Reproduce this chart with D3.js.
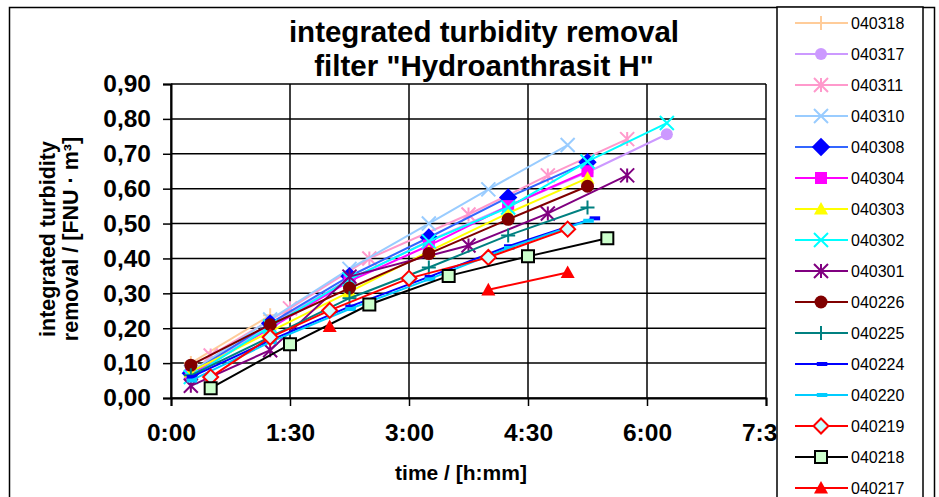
<!DOCTYPE html>
<html>
<head>
<meta charset="utf-8">
<script src="https://cdn.jsdelivr.net/npm/d3@7"></script>
<style>
  body { margin: 0; background: #fff; }
  svg { display: block; }
  text { font-family: Arial, "Liberation Sans", sans-serif; }
</style>
</head>
<body>
<svg id="chart" width="939" height="497"></svg>
<script>
// Filter runs, listed in legend order
const seriesNames = ["040318", "040317", "040311", "040310", "040308", "040304", "040303", "040302",
                     "040301", "040226", "040225", "040224", "040220", "040219", "040218", "040217"];

// Elapsed filter time in hours for each run
const seriesHours = [
  [0.25, 1.25],
  [0.25, 1.25, 2.25, 3.25, 4.25, 5.25, 6.25],
  [0.5, 1.5, 2.5, 3.75, 4.75, 5.75],
  [0.25, 1.25, 2.25, 3.25, 4.0, 5.0],
  [0.25, 1.25, 2.25, 3.25, 4.25, 5.25],
  [0.25, 1.25, 2.25, 3.25, 4.25, 5.25],
  [0.25, 1.25, 2.25, 3.25, 4.25, 5.25],
  [0.25, 1.25, 2.25, 3.25, 4.25, 5.25, 6.25],
  [0.25, 1.25, 2.25, 3.75, 4.75, 5.75],
  [0.25, 1.25, 2.25, 3.25, 4.25, 5.25],
  [0.25, 1.25, 2.25, 3.25, 4.25, 5.25],
  [0.25, 1.25, 2.25, 3.25, 4.25, 5.33],
  [0.25, 1.25, 2.25, 3.25, 4.25, 5.25],
  [0.5, 1.25, 2.0, 3.0, 4.0, 5.0],
  [0.5, 1.5, 2.5, 3.5, 4.5, 5.5],
  [2.0, 3.0, 4.0, 5.0]
];

// Integrated turbidity removal [FNU · m³]; null = no measurement
const seriesValues = [
  [0.10, 0.237],
  [0.07, 0.21, 0.34, 0.45, 0.55, 0.647, 0.756],
  [0.122, 0.257, 0.40, 0.526, 0.638, 0.742],
  [0.075, 0.225, 0.37, 0.50, 0.598, 0.725],
  [0.071, 0.214, 0.349, 0.46, 0.575, 0.676],
  [0.065, 0.20, 0.335, 0.437, 0.55, 0.65],
  [0.075, 0.19, 0.304, 0.42, 0.53, 0.63],
  [0.06, 0.205, 0.34, 0.449, 0.546, 0.678, 0.788],
  [0.035, 0.137, 0.348, 0.437, 0.529, 0.638],
  [0.094, 0.21, 0.315, 0.414, 0.512, 0.607],
  [0.065, 0.175, 0.286, 0.374, 0.466, 0.546],
  [0.06, 0.165, 0.262, 0.347, 0.435, 0.515],
  [0.05, 0.16, 0.255, 0.34, 0.43, 0.508],
  [0.06, 0.174, 0.251, 0.343, 0.403, 0.484],
  [0.028, 0.154, 0.268, 0.35, 0.406, 0.458],
  [0.205, null, 0.31, 0.36]
];

const xTickHours = [0, 1.5, 3, 4.5, 6, 7.5];
const xTickLabels = ["0:00", "1:30", "3:00", "4:30", "6:00", "7:30"];
const yTickValues = [0, 0.1, 0.2, 0.3, 0.4, 0.5, 0.6, 0.7, 0.8, 0.9];
const yTickLabels = ["0,00", "0,10", "0,20", "0,30", "0,40", "0,50", "0,60", "0,70", "0,80", "0,90"];

// Per-run styling: line colour, marker shape, marker fill, marker stroke
const lineColors   = ["#FFCC99", "#CC99FF", "#FF99CC", "#99CCFF", "#3366FF", "#FF00FF", "#FFFF00", "#00FFFF",
                      "#800080", "#800000", "#008080", "#0000FF", "#00CCFF", "#FF0000", "#000000", "#FF0000"];
const markerShapes = ["plus", "circle", "asterisk", "x", "diamond", "square", "triangle", "x",
                      "asterisk", "circle", "plus", "dash", "dash", "diamond", "square", "triangle"];
const markerFills  = ["none", "#CC99FF", "none", "none", "#0000FF", "#FF00FF", "#FFFF00", "none",
                      "none", "#800000", "none", "#0000FF", "#00CCFF", "#CCFFFF", "#CCFFCC", "#FF0000"];
const markerStrokes = ["#FFCC99", "#CC99FF", "#FF99CC", "#99CCFF", "#0000FF", "#FF00FF", "#FFFF00", "#00FFFF",
                       "#800080", "#800000", "#008080", "#0000FF", "#00CCFF", "#FF0000", "#000000", "#FF0000"];

const svg = d3.select("#chart");
const plot = { left: 171, right: 766, top: 84, bottom: 398 };

const x = d3.scaleLinear().domain([0, 7.5]).range([plot.left, plot.right]);
const y = d3.scaleLinear().domain([0, 0.9]).range([plot.bottom, plot.top]);

// Outer chart frame
svg.append("rect").attr("x", 9.5).attr("y", 7.5).attr("width", 925).attr("height", 520)
  .attr("fill", "#fff").attr("stroke", "#000").attr("stroke-width", 1.5);

// Title
const title = svg.append("text").attr("text-anchor", "middle")
  .attr("font-weight", "bold").attr("font-size", 29.5).attr("fill", "#000");
title.append("tspan").attr("x", 484).attr("y", 42).text("integrated turbidity removal");
title.append("tspan").attr("x", 484).attr("y", 76).text("filter \"Hydroanthrasit H\"");

// Gridlines
const grid = svg.append("g").attr("stroke", "#000").attr("stroke-width", 1.5);
grid.selectAll("line.h").data(yTickValues).join("line").attr("class", "h")
  .attr("x1", plot.left).attr("x2", plot.right)
  .attr("y1", d => y(d)).attr("y2", d => y(d));
grid.selectAll("line.v").data(xTickHours).join("line").attr("class", "v")
  .attr("y1", plot.top).attr("y2", plot.bottom)
  .attr("x1", d => x(d)).attr("x2", d => x(d));

// Axes
const yAxis = d3.axisLeft(y).tickValues(yTickValues)
  .tickFormat((d, i) => yTickLabels[i]).tickSize(8).tickPadding(12);
const gy = svg.append("g").attr("transform", `translate(${plot.left},0)`).call(yAxis);
const xAxis = d3.axisBottom(x).tickValues(xTickHours)
  .tickFormat((d, i) => xTickLabels[i]).tickSize(8).tickPadding(18);
const gx = svg.append("g").attr("transform", `translate(0,${plot.bottom})`).call(xAxis);
[gx, gy].forEach(g => {
  g.select(".domain").attr("stroke", "#000").attr("stroke-width", 2);
  g.selectAll(".tick line").attr("stroke", "#000").attr("stroke-width", 1.5);
  g.selectAll(".tick text").attr("font-family", "Arial, 'Liberation Sans', sans-serif")
    .attr("font-size", 24.5).attr("font-weight", "bold").attr("fill", "#000");
});

// Axis titles
svg.append("text").attr("x", 461).attr("y", 480).attr("text-anchor", "middle")
  .attr("font-weight", "bold").attr("font-size", 21).text("time / [h:mm]");
const yTitle = svg.append("text").attr("transform", "translate(0,239) rotate(-90)")
  .attr("text-anchor", "middle").attr("font-weight", "bold").attr("font-size", 21.5);
yTitle.append("tspan").attr("x", 0).attr("y", 55).text("integrated turbidity");
yTitle.append("tspan").attr("x", 0).attr("y", 78).text("removal / [FNU · m³]");

// Marker path generator
function markerPath(shape, s) {
  switch (shape) {
    case "circle":   return d3.symbol(d3.symbolCircle, Math.PI * s * s)();
    case "square":   return `M${-s},${-s}H${s}V${s}H${-s}Z`;
    case "diamond":  return `M0,${-s * 1.15}L${s * 1.15},0L0,${s * 1.15}L${-s * 1.15},0Z`;
    case "triangle": return `M0,${-s}L${s},${s * 0.8}L${-s},${s * 0.8}Z`;
    case "plus":     return `M${-s},0H${s}M0,${-s}V${s}`;
    case "x":        return `M${-s},${-s}L${s},${s}M${-s},${s}L${s},${-s}`;
    case "asterisk": return `M${-s},${-s}L${s},${s}M${-s},${s}L${s},${-s}M0,${-s}V${s}`;
    case "dash":     return `M${-s * 0.6},-2H${s * 0.9}V2H${-s * 0.6}Z`;
  }
}
const markerSize = [7, 6, 7, 7, 8, 6, 7, 7, 7, 6.5, 7, 7, 7, 6.5, 6, 7];
const strokeOnly = new Set(["plus", "x", "asterisk"]);

function drawMarker(g, i, cx, cy) {
  const shape = markerShapes[i];
  const p = g.append("path").attr("d", markerPath(shape, markerSize[i]))
    .attr("transform", `translate(${cx},${cy})`);
  if (strokeOnly.has(shape)) {
    p.attr("fill", "none").attr("stroke", markerStrokes[i]).attr("stroke-width", 2);
  } else {
    p.attr("fill", markerFills[i]);
    if (markerFills[i] !== markerStrokes[i]) p.attr("stroke", markerStrokes[i]).attr("stroke-width", 2);
  }
}

// Series
const line = d3.line().defined(d => d[1] !== null).x(d => x(d[0])).y(d => y(d[1]));
const seriesG = svg.append("g");
seriesNames.forEach((name, i) => {
  const pts = seriesHours[i].map((h, k) => [h, seriesValues[i][k]]);
  const g = seriesG.append("g");
  g.append("path").attr("d", line(pts)).attr("fill", "none")
    .attr("stroke", lineColors[i]).attr("stroke-width", 2);
  pts.filter(d => d[1] !== null).forEach(d => drawMarker(g, i, x(d[0]), y(d[1])));
});

// Legend
const legend = svg.append("g");
legend.append("rect").attr("x", 777).attr("y", 7).attr("width", 146).attr("height", 520)
  .attr("fill", "#fff").attr("stroke", "#000").attr("stroke-width", 1.5);
seriesNames.forEach((name, i) => {
  const ly = 23 + i * 31;
  const g = legend.append("g");
  g.append("line").attr("x1", 795).attr("x2", 848).attr("y1", ly).attr("y2", ly)
    .attr("stroke", lineColors[i]).attr("stroke-width", 2);
  drawMarker(g, i, 821, ly);
  g.append("text").attr("x", 851).attr("y", ly).attr("dy", "0.36em")
    .attr("font-size", 16).attr("fill", "#000").text(name);
});
</script>
</body>
</html>
